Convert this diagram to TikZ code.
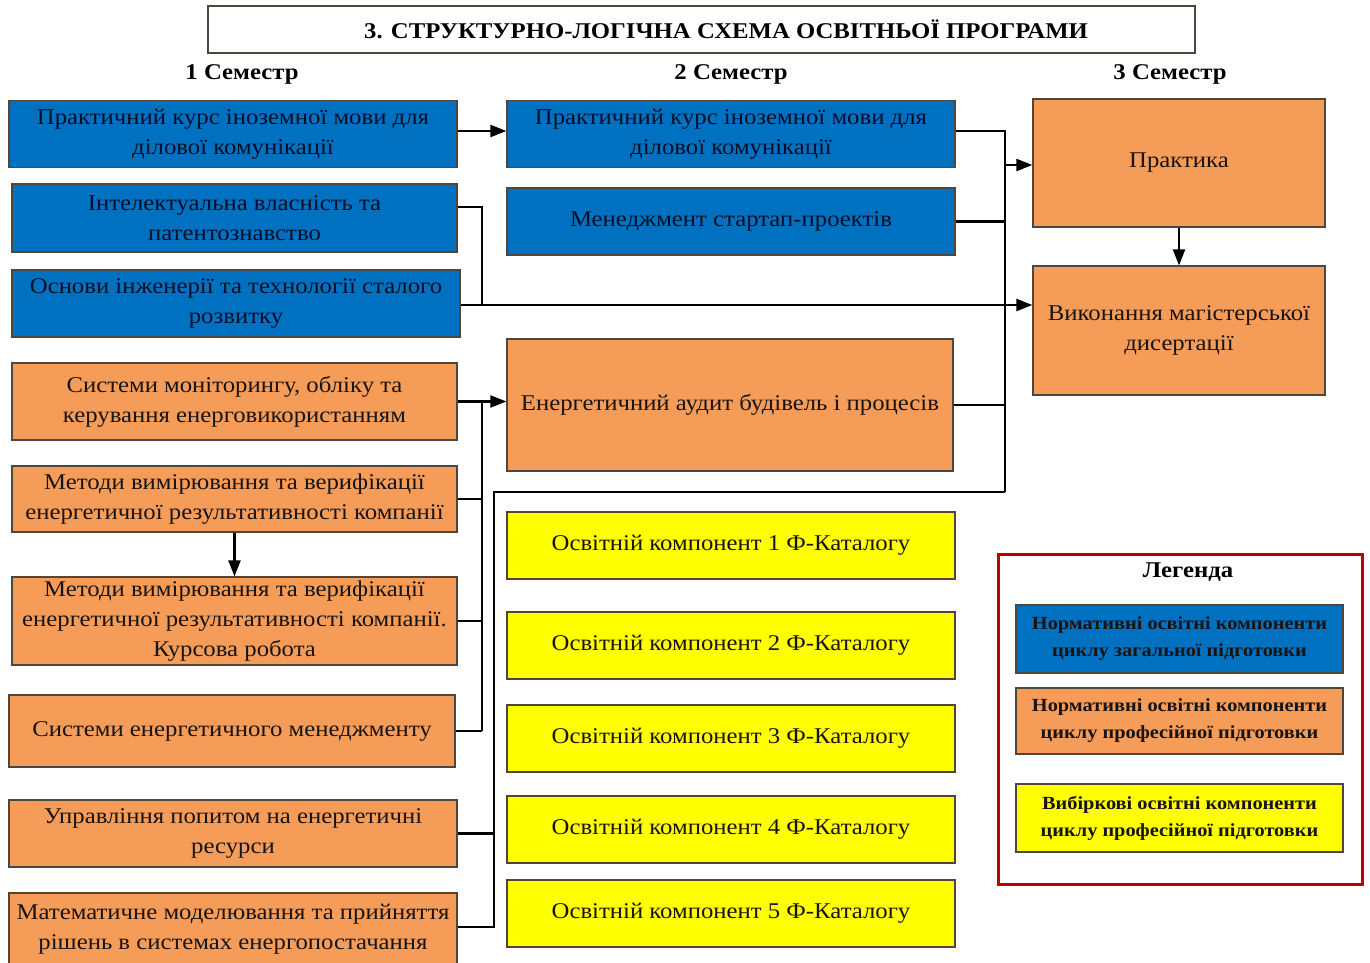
\documentclass[tikz,border=0pt]{standalone}
\usepackage{fontspec}
\setmainfont[FakeStretch=1.1]{Liberation Serif}
\usetikzlibrary{arrows.meta}
\definecolor{cblue}{RGB}{0,112,192}
\definecolor{corange}{RGB}{245,156,88}
\definecolor{cyellow}{RGB}{255,255,0}
\definecolor{cedge}{RGB}{80,70,60}
\definecolor{cred}{RGB}{192,0,0}
\definecolor{ctext}{RGB}{25,20,20}
\definecolor{cbtext}{RGB}{5,15,40}
\tikzset{
  box/.style={draw=cedge, line width=1.2pt, align=center, inner sep=2pt,
    font=\fontsize{22.5}{30}\selectfont, text=ctext},
  bluebox/.style={box, fill=cblue, text=cbtext},
  orbox/.style={box, fill=corange},
  yebox/.style={box, fill=cyellow},
  legbox/.style={draw=cedge, line width=1.2pt, align=center, inner sep=2pt,
    font=\bfseries\fontsize{18.5}{27}\selectfont, text=ctext, minimum width=327pt},
  conn/.style={line width=2.2pt, black},
  arr/.style={conn, -{Triangle[length=16pt,width=12pt]}},
  head/.style={font=\bfseries\fontsize{22.5}{26}\selectfont}
}
\begin{document}
\begin{tikzpicture}[x=1pt,y=-1pt]
\useasboundingbox (0,0) rectangle (1370,963);
\fill[white] (0,0) rectangle (1370,963);
% title
\node[draw=cedge, line width=1.2pt, minimum width=987pt, minimum height=47pt] (titlebox) at (701.5,29.5) {};
\node[font=\bfseries\fontsize{22.5}{26}\selectfont] (title) at (726,29.5)
  {3. СТРУКТУРНО-ЛОГІЧНА СХЕМА ОСВІТНЬОЇ ПРОГРАМИ};
\node[head] (h1) at (242,74) {1 Семестр};
\node[head] (h2) at (731,74) {2 Семестр};
\node[head] (h3) at (1170,74) {3 Семестр};
% column 1
\node[bluebox, minimum width=448pt, minimum height=67pt] (c1a) at (233,134)
  {Практичний курс іноземної мови для\\ділової комунікації};
\node[bluebox, minimum width=445pt, minimum height=68pt] (c1b) at (234.5,218)
  {Інтелектуальна власність та\\патентознавство};
\node[bluebox, minimum width=448pt, minimum height=67pt] (c1c) at (236,303.5)
  {Основи інженерії та технології сталого\\розвитку};
\node[orbox, minimum width=445pt, minimum height=77pt] (c1d) at (234.5,401.5)
  {Системи моніторингу, обліку та\\керування енерговикористанням};
\node[orbox, minimum width=445pt, minimum height=66pt] (c1e) at (234.5,499)
  {Методи вимірювання та верифікації\\енергетичної результативності компанії};
\node[orbox, minimum width=445pt, minimum height=88pt] (c1f) at (234.5,621)
  {Методи вимірювання та верифікації\\енергетичної результативності компанії.\\Курсова робота};
\node[orbox, minimum width=446pt, minimum height=72pt] (c1g) at (232,731)
  {Системи енергетичного менеджменту};
\node[orbox, minimum width=448pt, minimum height=67pt] (c1h) at (233,833.5)
  {Управління попитом на енергетичні\\ресурси};
\node[orbox, minimum width=448pt, minimum height=73pt] (c1i) at (233,929.5)
  {Математичне моделювання та прийняття\\рішень в системах енергопостачання};
% column 2
\node[bluebox, minimum width=448pt, minimum height=67pt] (c2a) at (731,134)
  {Практичний курс іноземної мови для\\ділової комунікації};
\node[bluebox, minimum width=448pt, minimum height=67pt] (c2b) at (731,221.5)
  {Менеджмент стартап-проектів};
\node[orbox, minimum width=446pt, minimum height=132pt] (c2c) at (730,405)
  {Енергетичний аудит будівель і процесів};
\node[yebox, minimum width=448pt, minimum height=67pt] (y1) at (731,545.5) {Освітній компонент 1 Ф-Каталогу};
\node[yebox, minimum width=448pt, minimum height=67pt] (y2) at (731,645.5) {Освітній компонент 2 Ф-Каталогу};
\node[yebox, minimum width=448pt, minimum height=67pt] (y3) at (731,738.5) {Освітній компонент 3 Ф-Каталогу};
\node[yebox, minimum width=448pt, minimum height=67pt] (y4) at (731,829.5) {Освітній компонент 4 Ф-Каталогу};
\node[yebox, minimum width=448pt, minimum height=67pt] (y5) at (731,913.5) {Освітній компонент 5 Ф-Каталогу};
% column 3
\node[orbox, minimum width=292pt, minimum height=128pt] (c3a) at (1179,163) {Практика};
\node[orbox, minimum width=292pt, minimum height=129pt] (c3b) at (1179,330.5)
  {Виконання магістерської\\дисертації};
% legend
\node[draw=cred, line width=3pt, minimum width=364pt, minimum height=330pt] (leg) at (1180,719) {};
\node[font=\bfseries\fontsize{22.5}{26}\selectfont] (legt) at (1188,572) {Легенда};
\node[legbox, fill=cblue, minimum height=68pt] (l1) at (1179.5,639)
  {Нормативні освітні компоненти\\циклу загальної підготовки};
\node[legbox, fill=corange, minimum height=66pt] (l2) at (1179.5,721)
  {Нормативні освітні компоненти\\циклу професійної підготовки};
\node[legbox, fill=cyellow, minimum height=68pt] (l3) at (1179.5,818)
  {Вибіркові освітні компоненти\\циклу професійної підготовки};
% junction coordinates
\coordinate (ja) at (482,207);
\coordinate (jb) at (482,305);
\coordinate (bus2top) at (482,401.5);
\coordinate (bus3top) at (494,492);
\coordinate (rbtop) at (1005,131);
\coordinate (rbbot) at (1005,492);
\coordinate (rbarr) at (1005,165);
% connectors
\draw[arr] ([yshift=3pt]c1a.east) -- ([yshift=3pt]c2a.west);
\draw[conn] ([yshift=11pt]c1b.east) -- (ja) -- (jb);
\draw[arr] (c1c.east |- jb) -- (c3b.west |- jb);
\draw[arr] (c1d.east) -- (c1d.east -| c2c.west);
\draw[conn] (bus2top) -- (c1g.east -| bus2top);
\draw[conn] (c1e.east) -- (c1e.east -| bus2top);
\draw[conn] (c1f.east) -- (c1f.east -| bus2top);
\draw[conn] (c1g.east) -- (c1g.east -| bus2top);
\draw[arr] (c1e.south) -- (c1f.north);
\draw[conn] (c1i.east |- 0,927) -- (bus3top |- 0,927) -- (bus3top) -- (rbbot);
\draw[conn] (c1h.east) -- (c1h.east -| bus3top);
\draw[conn] (c2a.east |- rbtop) -- (rbtop) -- (rbbot);
\draw[conn] (c2b.east) -- (c2b.east -| rbtop);
\draw[conn] (c2c.east) -- (c2c.east -| rbtop);
\draw[arr] (rbarr) -- (rbarr -| c3a.west);
\draw[arr] (c3a.south) -- (c3b.north);
\end{tikzpicture}
\end{document}
